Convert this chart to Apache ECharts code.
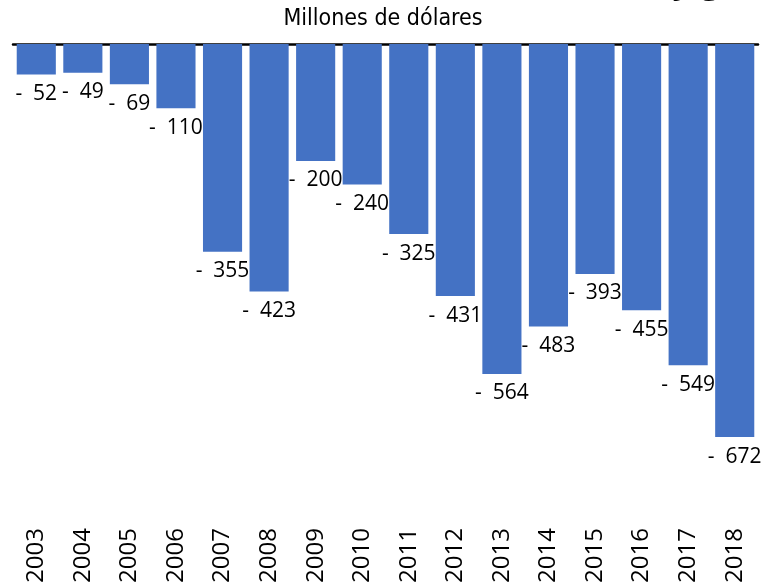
<!DOCTYPE html>
<html>
<head>
<meta charset="utf-8">
<script src="https://cdn.jsdelivr.net/npm/echarts@6/dist/echarts.min.js"></script>
<style>
  html, body { margin: 0; padding: 0; background: #fff; }
  #chart { width: 766px; height: 586px; }
</style>
</head>
<body>
<div id="chart"></div>
<script>
// datos
var years = ['2003', '2004', '2005', '2006', '2007', '2008', '2009', '2010',
             '2011', '2012', '2013', '2014', '2015', '2016', '2017', '2018'];
var values = [-52, -49, -69, -110, -355, -423, -200, -240,
              -325, -431, -564, -483, -393, -455, -549, -672];
var subtitle = 'Millones de dólares';

var chart = echarts.init(document.getElementById('chart'));

chart.setOption({
    animation: false,
    backgroundColor: '#fff',
    title: {
        text: subtitle,
        left: 'center',
        top: 3,
        textStyle: {
            fontFamily: '"Liberation Sans Narrow", "DejaVu Sans Condensed", sans-serif',
            fontWeight: 'normal',
            fontSize: 23,
            color: '#000'
        }
    },
    graphic: [{
        type: 'text',
        right: 46,
        top: -34,
        style: {
            text: 'y g',
            fontFamily: '"Open Sans", sans-serif',
            fontWeight: 'bold',
            fontSize: 34,
            fill: '#000'
        }
    }],
    grid: { left: 13, right: 8, top: 44, bottom: 74.5 },
    xAxis: [{
        type: 'category',
        data: years,
        position: 'bottom',
        axisLine: { show: false },
        axisTick: { show: false },
        axisLabel: {
            rotate: 90,
            margin: 22,
            fontFamily: '"Open Sans", sans-serif',
            fontSize: 24,
            color: '#000'
        }
    }, {
        type: 'category',
        data: years,
        position: 'top',
        axisLine: { show: true, lineStyle: { color: '#000', width: 2.5 } },
        axisTick: { show: false },
        axisLabel: { show: false }
    }],
    yAxis: {
        type: 'value',
        min: -790,
        max: 0,
        show: false,
        splitLine: { show: false }
    },
    series: [{
        type: 'bar',
        data: values,
        barCategoryGap: '16%',
        itemStyle: { color: '#4472C4' },
        label: {
            show: true,
            position: 'bottom',
            distance: 9,
            fontFamily: '"Open Sans", sans-serif',
            fontSize: 21,
            color: '#000',
            formatter: function (p) { return '-  ' + Math.abs(p.value); }
        }
    }]
});
</script>
</body>
</html>
